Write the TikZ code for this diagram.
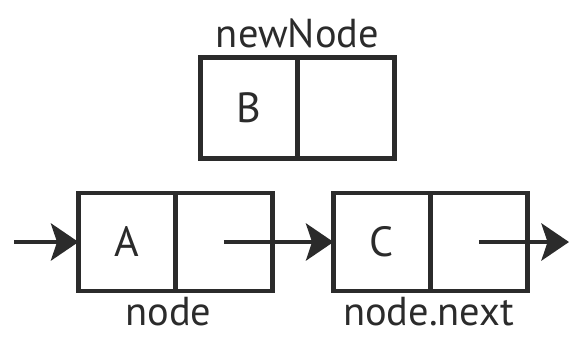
\documentclass[tikz,border=0pt]{standalone}
\usepackage{fontspec}
\setmainfont{PT Sans}
\usetikzlibrary{arrows.meta,positioning}
\definecolor{ink}{HTML}{2B2B2B}

\begin{document}
\begin{tikzpicture}[x=0.02cm,y=-0.02cm,
    cell/.style={draw=ink, line width=2.6pt, minimum width=1.94cm,
        minimum height=1.96cm, inner sep=0pt, outer sep=0pt,
        font=\fontsize{24}{28}\selectfont, text=ink},
    lbl/.style={font=\fontsize{23}{27}\selectfont, text=ink, inner sep=0pt},
    link/.style={draw=ink, line width=2.6pt,
        -{Stealth[length=0.55cm,width=0.74cm,inset=0.12cm]}}]
           \useasboundingbox (0,0) rectangle (570,341);
           \node [cell, minimum height=2.02cm] (B) at (249,108) {B};
           \node [cell, minimum height=2.02cm, right=0pt of B] (Bnext) {};
           \node [cell] (A) at (127,242) {A};
           \node [cell, right=0pt of A] (Anext) {};
           \node [cell] (C) at (382,242) {C};
           \node [cell, right=0pt of C] (Cnext) {};
           \node [lbl, above=0.18cm of B.north east] (newNodeLbl) {newNode};
           \node [lbl, below=0.12cm of A.south east, xshift=-0.14cm] (nodeLbl) {node};
           \node [lbl, below=0.12cm of C.south east, xshift=-0.04cm] (nextLbl) {node.next};
           \coordinate (in) at (14,242);
           \coordinate (out) at (569,242);
           \draw [link] (in) -- (A.west);
           \draw [link] (Anext.center) -- (C.west);
           \draw [link] (Cnext.center) -- (out);
      \end{tikzpicture}
\end{document}
